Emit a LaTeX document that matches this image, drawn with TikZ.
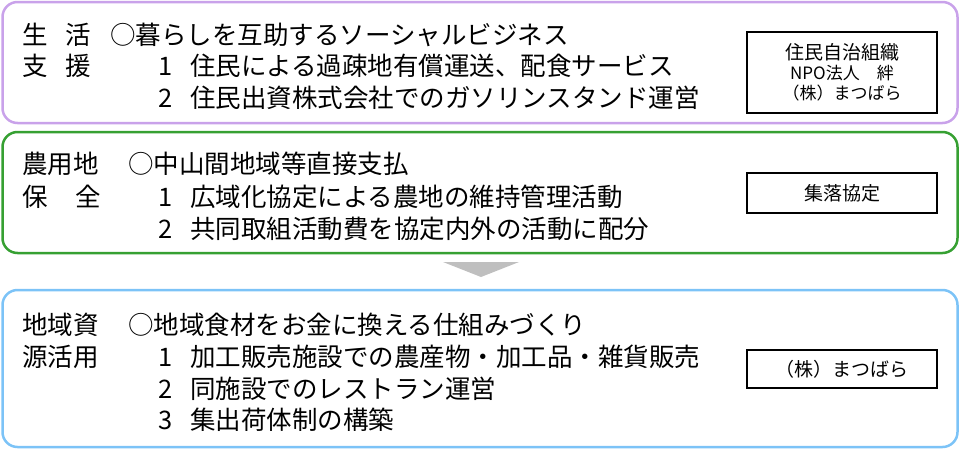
\documentclass[tikz,border=0pt]{standalone}
\usepackage{fontspec}
\setmainfont{Noto Sans CJK JP}
\usepackage{xcolor}
\usepackage{tikz}
\usetikzlibrary{shapes}
\definecolor{lifepurple}{HTML}{C9A2EA}
\definecolor{farmgreen}{HTML}{36A032}
\definecolor{resblue}{HTML}{7CC3F7}
\definecolor{arrowgray}{HTML}{BFBFBF}
\tikzstyle{panel} = [rectangle, draw, rounded corners=15pt, line width=2.5pt, minimum width=955pt, inner sep=0pt]
\tikzstyle{actor} = [rectangle, draw, line width=2pt, minimum width=190pt, text centered, align=center, inner sep=0pt, font=\fontsize{19pt}{22pt}\selectfont]
\tikzstyle{entry} = [anchor=base west, inner sep=0pt, font=\fontsize{25.5pt}{30pt}\selectfont]
\newcommand{\num}[1]{\makebox[32pt][l]{#1}}

\begin{document}
\begin{tikzpicture}[x=1pt, y=-1pt]
        \useasboundingbox (0,0) rectangle (960,450);
        % panels
        \node [panel, draw=lifepurple, minimum height=121pt] at (480,62.5) (life) {};
        \node [panel, draw=farmgreen, minimum height=121pt] at (480,192.5) (farm) {};
        \node [panel, draw=resblue, minimum height=157pt] at (480,368.5) (resource) {};
        \fill [arrowgray] (443,262) -- (519,262) -- (481,277) -- cycle;

        % 生活支援
        \node [entry] at (22,44) (lifeT1) {生\hspace{18pt}活};
        \node [entry] at (22,75.5) (lifeT2) {支\hspace{18pt}援};
        \node [entry] at (110,44) (lifeA) {○暮らしを互助するソーシャルビジネス};
        \node [entry] at (158,75.5) (lifeB) {\num{1}住民による過疎地有償運送、配食サービス};
        \node [entry] at (158,107) (lifeC) {\num{2}住民出資株式会社でのガソリンスタンド運営};
        \node [actor, minimum height=81pt] at (842,72.5) (lifeOrg)
        {住民自治組織\\[-2pt]{\fontsize{17pt}{19pt}\selectfont NPO法人　絆}\\[-2pt]{\fontsize{17pt}{19pt}\selectfont （株）まつばら}};

        % 農用地保全
        \node [entry] at (22,173) (farmT1) {農用地};
        \node [entry] at (22,206) (farmT2) {保\hspace{28pt}全};
        \node [entry] at (128,173) (farmA) {○中山間地域等直接支払};
        \node [entry] at (158,206) (farmB) {\num{1}広域化協定による農地の維持管理活動};
        \node [entry] at (158,238) (farmC) {\num{2}共同取組活動費を協定内外の活動に配分};
        \node [actor, minimum height=40pt] at (842,193) (farmOrg) {集落協定};

        % 地域資源活用
        \node [entry] at (22,334) (resT1) {地域資};
        \node [entry] at (22,366) (resT2) {源活用};
        \node [entry] at (128,334) (resA) {○地域食材をお金に換える仕組みづくり};
        \node [entry] at (158,366) (resB) {\num{1}加工販売施設での農産物・加工品・雑貨販売};
        \node [entry] at (158,398) (resC) {\num{2}同施設でのレストラン運営};
        \node [entry] at (158,429.5) (resD) {\num{3}集出荷体制の構築};
        \node [actor, minimum height=38pt] at (842,369) (resOrg) {（株）まつばら};
\end{tikzpicture}
\end{document}
